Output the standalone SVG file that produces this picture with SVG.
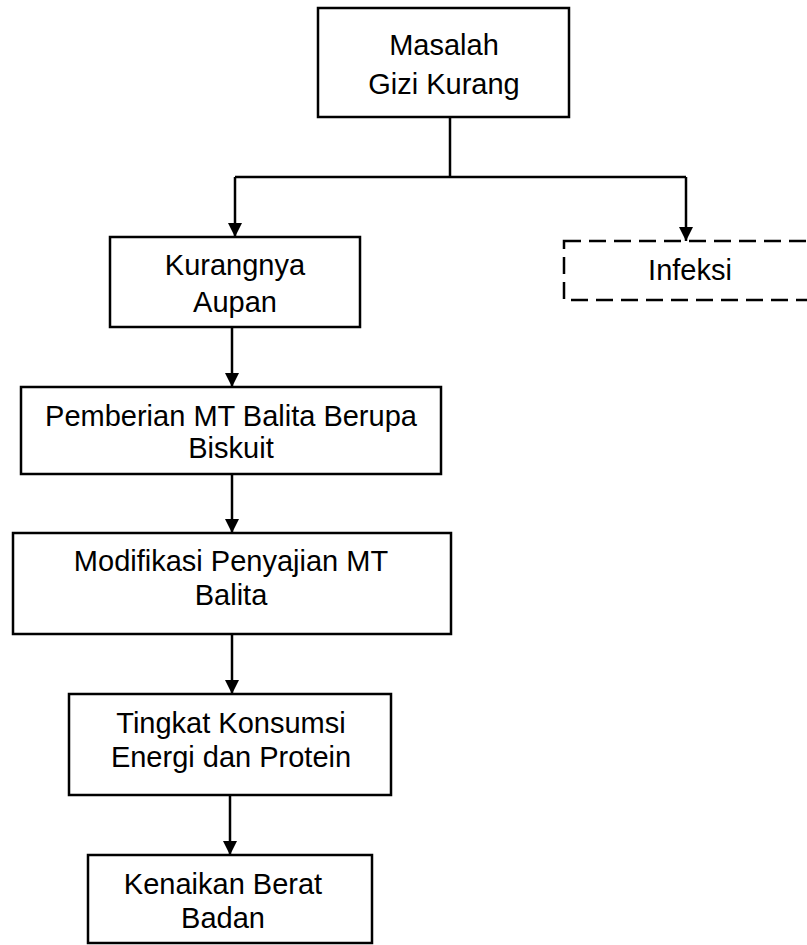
<svg xmlns="http://www.w3.org/2000/svg" width="807" height="945" viewBox="0 0 807 945">
<defs>
<marker id="arr" markerUnits="userSpaceOnUse" markerWidth="16" markerHeight="16" viewBox="0 0 16 16" refX="15" refY="8" orient="auto">
<path d="M1,1 L15,8 L1,15 Z" fill="#000"/>
</marker>
<style>
.box{fill:#fff;stroke:#000;stroke-width:2.5}
.dash{fill:#fff;stroke:#000;stroke-width:2.5;stroke-dasharray:17 8}
.ln{fill:none;stroke:#000;stroke-width:2.5}
.t{font-family:"Liberation Sans",Arial,sans-serif;font-size:29px;fill:#000;text-anchor:middle}
</style>
</defs>
<rect width="807" height="945" fill="#fff"/>
<g id="n-masalah">
<rect class="box" x="318" y="8" width="251" height="109"/>
<text class="t" x="444" y="55">Masalah</text>
<text class="t" x="444" y="94">Gizi Kurang</text>
</g>
<g id="n-kurangnya">
<rect class="box" x="110" y="237" width="250" height="90"/>
<text class="t" x="235" y="275">Kurangnya</text>
<text class="t" x="235" y="312">Aupan</text>
</g>
<g id="n-infeksi">
<rect class="dash" x="564" y="241" width="270" height="59"/>
<text class="t" x="690" y="280">Infeksi</text>
</g>
<g id="n-pemberian">
<rect class="box" x="21" y="387" width="420" height="87"/>
<text class="t" x="231" y="426">Pemberian MT Balita Berupa</text>
<text class="t" x="231" y="458">Biskuit</text>
</g>
<g id="n-modifikasi">
<rect class="box" x="13" y="533" width="438" height="101"/>
<text class="t" x="231" y="571">Modifikasi Penyajian MT</text>
<text class="t" x="231" y="605">Balita</text>
</g>
<g id="n-tingkat">
<rect class="box" x="69" y="694" width="322" height="101"/>
<text class="t" x="231" y="733">Tingkat Konsumsi</text>
<text class="t" x="231" y="767">Energi dan Protein</text>
</g>
<g id="n-kenaikan">
<rect class="box" x="88" y="855" width="284" height="88"/>
<text class="t" x="223" y="894">Kenaikan Berat</text>
<text class="t" x="223" y="928">Badan</text>
</g>
<g id="connectors">
<path class="ln" d="M450,117 V177"/>
<path class="ln" d="M235,177 H686"/>
<path class="ln" d="M235,177 V237" marker-end="url(#arr)"/>
<path class="ln" d="M686,177 V241" marker-end="url(#arr)"/>
<path class="ln" d="M232,327 V387" marker-end="url(#arr)"/>
<path class="ln" d="M232,474 V533" marker-end="url(#arr)"/>
<path class="ln" d="M232,634 V694" marker-end="url(#arr)"/>
<path class="ln" d="M230,795 V855" marker-end="url(#arr)"/>
</g>
</svg>
